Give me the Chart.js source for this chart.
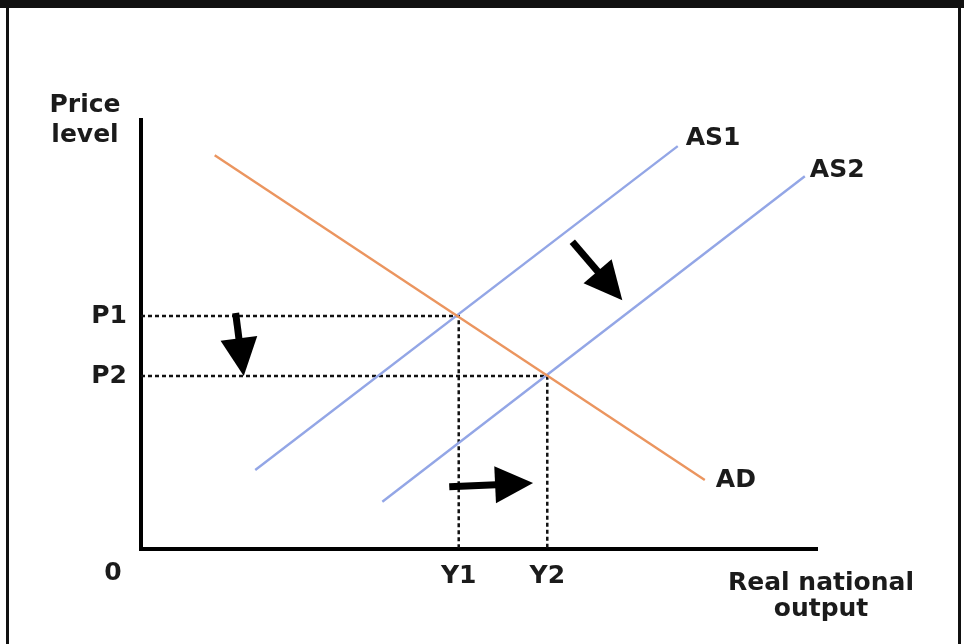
<!DOCTYPE html>
<html>
<head>
<meta charset="utf-8">
<script src="https://cdn.jsdelivr.net/npm/chart.js@4.4.1/dist/chart.umd.min.js"></script>
<style>
  body { margin: 0; background: #fff; }
  canvas { display: block; }
</style>
</head>
<body>
<canvas id="adasChart" width="964" height="644"></canvas>
<script>
// 曲線の端点（x: 実質国民所得, y: 物価水準、どちらも 0〜100）
const adX = [10.9, 83.4];
const adY = [91.8, 16.1];
const as1X = [16.9, 79.4];
const as1Y = [18.4, 93.9];
const as2X = [35.7, 98.2];
const as2Y = [11.0, 86.9];

// 均衡点 (Y1,P1) と (Y2,P2)
const eqX = [47.0, 60.1];
const eqY = [54.3, 40.3];
const xTickLabels = ['Y1', 'Y2'];
const yTickLabels = ['P1', 'P2'];

// 矢印（始点と終点）
const arrowStartX = [14.0, 45.6, 63.8];
const arrowStartY = [55.0, 14.5, 71.6];
const arrowEndX = [15.2, 58.0, 71.2];
const arrowEndY = [40.3, 15.4, 58.0];

const curveNames = ['AD', 'AS1', 'AS2'];

const textColor = '#1b1b1b';
const fontFamily = '"DejaVu Sans", sans-serif';

function toPoints(xs, ys) {
    return xs.map((x, i) => ({ x: x, y: ys[i] }));
}

// 点線（P から均衡点、均衡点から Y）
function guide(i) {
    return [{ x: 0, y: eqY[i] }, { x: eqX[i], y: eqY[i] }, { x: eqX[i], y: 0 }];
}

// 枠線・矢印・文字を描くプラグイン
const decorPlugin = {
    id: 'decor',
    afterDatasetsDraw(chart) {
        const ctx = chart.ctx;
        const xs = chart.scales.x;
        const ys = chart.scales.y;
        ctx.save();
        ctx.fillStyle = '#000';
        ctx.strokeStyle = '#000';
        for (let i = 0; i < arrowStartX.length; i++) {
            const x1 = xs.getPixelForValue(arrowStartX[i]);
            const y1 = ys.getPixelForValue(arrowStartY[i]);
            const x2 = xs.getPixelForValue(arrowEndX[i]);
            const y2 = ys.getPixelForValue(arrowEndY[i]);
            const ang = Math.atan2(y2 - y1, x2 - x1);
            const headLen = 38, headW = 37;
            const bx = x2 - Math.cos(ang) * headLen;
            const by = y2 - Math.sin(ang) * headLen;
            ctx.lineWidth = 7;
            ctx.beginPath();
            ctx.moveTo(x1, y1);
            ctx.lineTo(bx + Math.cos(ang), by + Math.sin(ang));
            ctx.stroke();
            ctx.beginPath();
            ctx.moveTo(x2, y2);
            ctx.lineTo(bx - Math.sin(ang) * headW / 2, by + Math.cos(ang) * headW / 2);
            ctx.lineTo(bx + Math.sin(ang) * headW / 2, by - Math.cos(ang) * headW / 2);
            ctx.closePath();
            ctx.fill();
        }
        ctx.restore();
    },
    afterDraw(chart) {
        const ctx = chart.ctx;
        const xs = chart.scales.x;
        const ys = chart.scales.y;
        const area = chart.chartArea;
        ctx.save();
        // 外枠
        ctx.fillStyle = '#111';
        ctx.fillRect(0, 0, chart.width, 8);
        ctx.fillRect(6, 0, 3, chart.height);
        ctx.fillRect(958, 0, 3, chart.height);

        ctx.fillStyle = textColor;
        ctx.font = 'bold 25px ' + fontFamily;
        ctx.textBaseline = 'alphabetic';
        ctx.textAlign = 'center';
        ctx.fillText('Price', area.left - 56, 112);
        ctx.fillText('level', area.left - 56, 142);
        ctx.fillText('Real national', area.right + 4, 590);
        ctx.fillText('output', area.right + 4, 616);
        ctx.textBaseline = 'middle';
        ctx.fillText('0', area.left - 28, area.bottom + 24);

        // 曲線名
        ctx.textAlign = 'left';
        ctx.fillText(curveNames[0], xs.getPixelForValue(adX[1]) + 11, ys.getPixelForValue(adY[1]) + 1);
        ctx.fillText(curveNames[1], xs.getPixelForValue(as1X[1]) + 8, ys.getPixelForValue(as1Y[1]) - 8);
        ctx.fillText(curveNames[2], xs.getPixelForValue(as2X[1]) + 5, ys.getPixelForValue(as2Y[1]) - 6);
        ctx.restore();
    }
};

const dashed = {
    borderColor: '#111',
    borderWidth: 2.5,
    borderDash: [4, 3],
    pointRadius: 0,
    fill: false
};

new Chart(document.getElementById('adasChart'), {
    type: 'line',
    data: {
        datasets: [
            { data: toPoints(adX, adY), borderColor: '#eb955f', borderWidth: 2.4, pointRadius: 0 },
            { data: toPoints(as1X, as1Y), borderColor: '#93a6e6', borderWidth: 2.4, pointRadius: 0 },
            { data: toPoints(as2X, as2Y), borderColor: '#93a6e6', borderWidth: 2.4, pointRadius: 0 },
            Object.assign({ data: guide(0) }, dashed),
            Object.assign({ data: guide(1) }, dashed)
        ]
    },
    options: {
        responsive: false,
        animation: false,
        devicePixelRatio: 1,
        layout: { padding: { left: 0, top: 120, right: 147, bottom: 0 } },
        plugins: { legend: { display: false }, tooltip: { enabled: false } },
        scales: {
            x: {
                type: 'linear',
                min: 0,
                max: 100,
                grid: { display: false, drawTicks: false },
                border: { display: true, color: '#000', width: 4 },
                afterFit(scale) { scale.height = 95; },
                afterBuildTicks(scale) { scale.ticks = eqX.map(v => ({ value: v })); },
                ticks: {
                    padding: 12,
                    color: textColor,
                    autoSkip: false,
                    maxRotation: 0,
                    font: { family: fontFamily, size: 25, weight: 'bold' },
                    callback: (value, index) => xTickLabels[index]
                }
            },
            y: {
                type: 'linear',
                min: 0,
                max: 100,
                grid: { display: false, drawTicks: false },
                border: { display: true, color: '#000', width: 4 },
                afterFit(scale) { scale.width = 141; },
                afterBuildTicks(scale) { scale.ticks = eqY.map(v => ({ value: v })); },
                ticks: {
                    padding: 14,
                    color: textColor,
                    autoSkip: false,
                    font: { family: fontFamily, size: 25, weight: 'bold' },
                    callback: (value, index) => yTickLabels[index]
                }
            }
        }
    },
    plugins: [decorPlugin]
});
</script>
</body>
</html>
